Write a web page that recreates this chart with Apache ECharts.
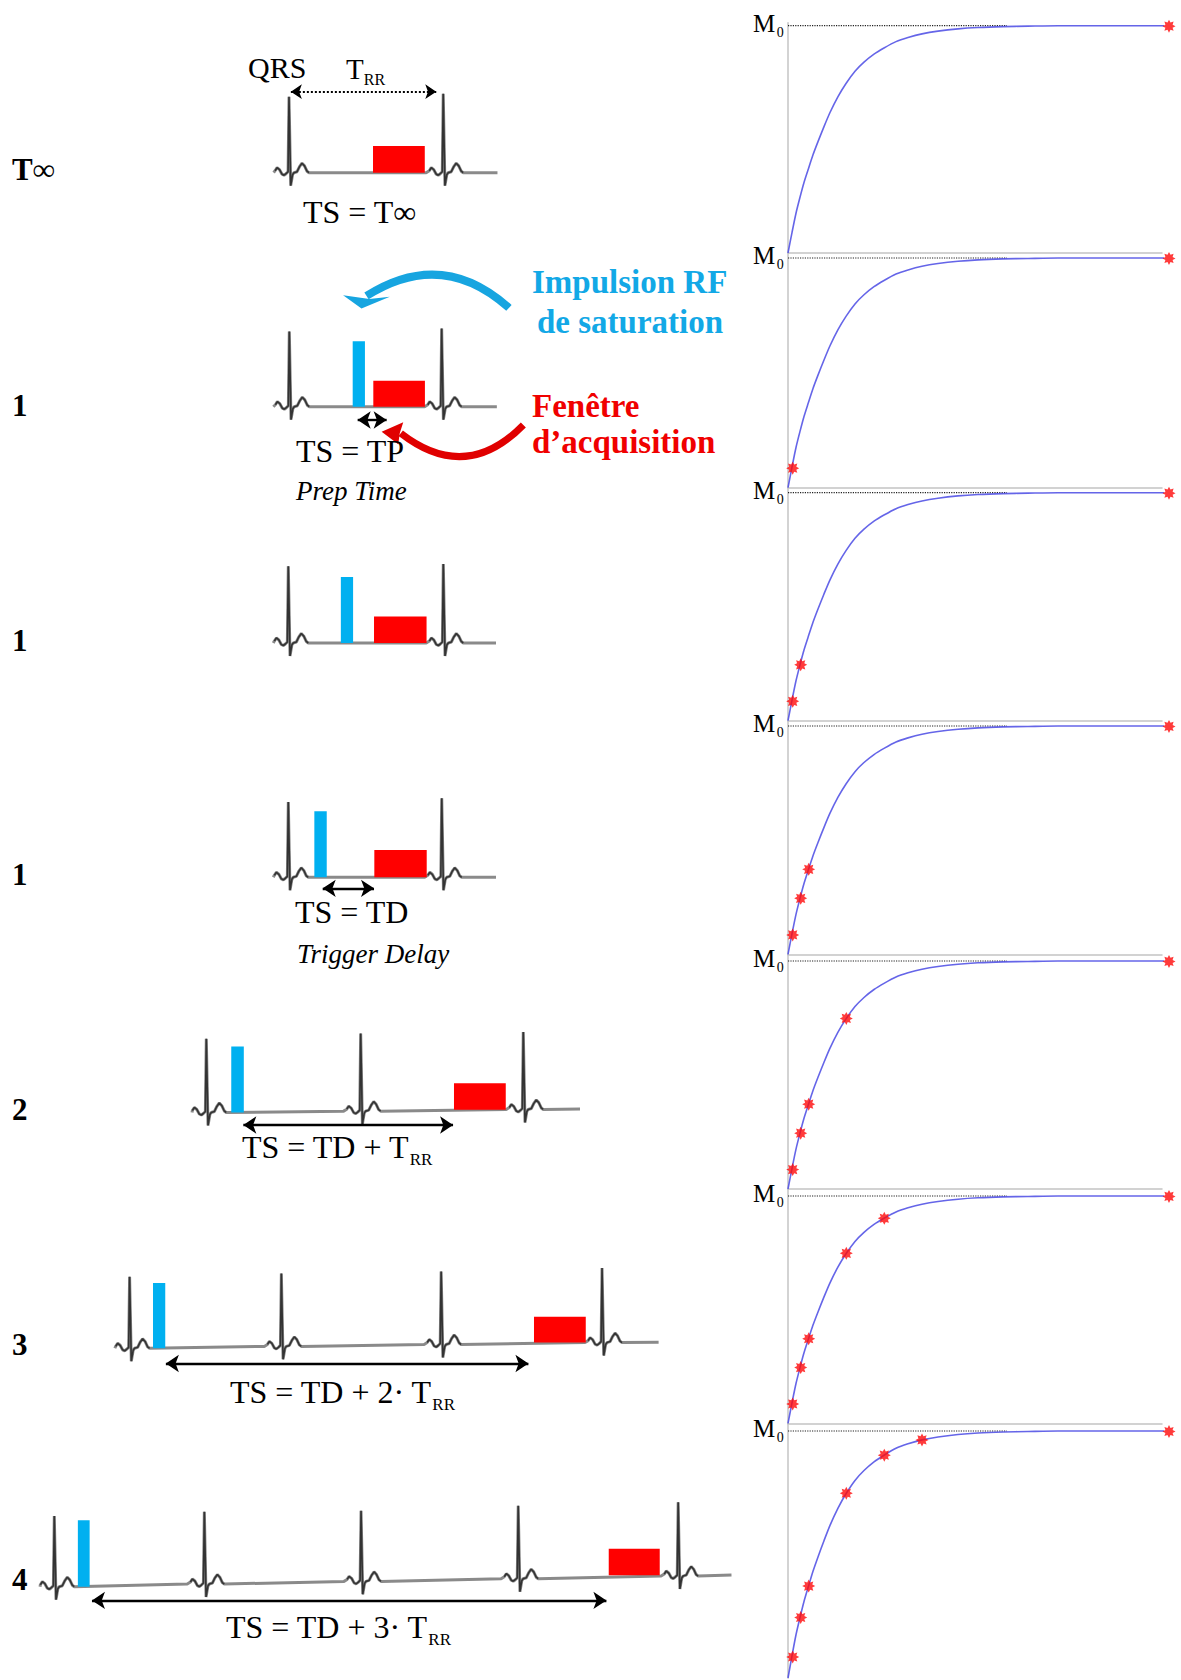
<!DOCTYPE html>
<html><head><meta charset="utf-8"><title>Saturation recovery</title>
<script src="https://cdn.jsdelivr.net/npm/echarts@6.0.0/dist/echarts.min.js"></script>
<style>html,body{margin:0;padding:0;background:#fff;}#chart{width:1181px;height:1680px;}</style>
</head><body><div id="chart"></div>
<script>
// ================= DATA =================
// Left column: ECG rows (time in ms from first R peak, amplitude in mV)
const ROW_LABELS = ['T∞', '1', '1', '1', '2', '3', '4'];
const R_PEAKS = [[0, 995], [0, 983], [0, 1000], [0, 990], [0, 996, 2045], [0, 979, 2010, 3048], [0, 968, 1979, 2993, 4025]];
const R_AMPS = [[1.0, 1.04], [0.99, 1.03], [1.01, 1.04], [0.99, 1.04], [0.97, 1.02, 1.02], [0.94, 0.96, 0.96, 0.98], [0.93, 0.95, 0.93, 0.96, 0.97]];
const BASE_DRIFT = [[0, 0], [0, 0], [0, 0], [0, 0], [0, 0.018, 0.04], [0, 0.025, 0.05, 0.075], [0, 0.035, 0.07, 0.105, 0.14]];
const TRACE_SPAN = [[-99, 1345], [-103, 1339], [-97, 1340], [-97, 1340], [-92, 2411], [-95, 3413], [-92, 4369]];
const TRACE_END_LEVEL = [0, 0, 0, 0, 0.045, 0.08, 0.155];
// one heartbeat template (offset from R peak in ms, level in mV)
const BEAT_DT = [-110, -90, -77, -61, -45, -32, -19, -6, 0, 11, 23, 32, 52, 68, 84, 100, 116, 129];
const BEAT_DV = [0, 0.026, 0.066, 0.04, -0.02, -0.033, -0.013, 0.013, 0, -0.17, -0.026, 0, 0.013, 0.08, 0.125, 0.09, 0.02, 0];
const R_INDEX = 8;
// saturation pulse [start, end, height]
const PULSES = [null, [409, 488, 0.86], [339, 418, 0.87], [168, 248, 0.87], [161, 242, 0.87], [151, 230, 0.86], [152, 228, 0.875]];
// acquisition window [start, end, base, height]
const WINDOWS = [[542, 876, 0, 0.35], [542, 875, 0, 0.34], [553, 892, 0, 0.35], [555, 893, 0, 0.36], [1598, 1932, 0.035, 0.35], [2609, 2943, 0.075, 0.34], [3577, 3906, 0.15, 0.35]];
// double arrows [start, end, level]
const SPANS = [[12, 950, 1.066], [441, 628, -0.175], null, [222, 553, -0.145], [239, 1592, -0.165], [234, 2573, -0.2], [243, 3562, -0.18]];
// curved call-out arrows of row 2 [tail t, tail level, head t, head level]
const CURVED_BLUE = [1417, 1.30, 498, 1.457];
const CURVED_RED = [1510, -0.241, 719, -0.35];
const TS_TEXT = ['TS = T∞', 'TS = TP', '', 'TS = TD', 'TS = TD + T', 'TS = TD + 2· T', 'TS = TD + 3· T'];
const TS_SUB = ['', '', '', '', 'RR', 'RR', 'RR'];
const NOTE_TEXT = ['', 'Prep Time', '', 'Trigger Delay', '', '', ''];

// Right column: recovery curve (t in px-like units, M / M0)
const CURVE_T = [0, 4, 8, 12, 16, 20, 25, 30, 36, 42, 50, 58, 67, 76, 86, 96, 108, 120, 134, 150, 170, 190, 215, 240, 270, 393];
const CURVE_M = [0, 0.09, 0.175, 0.245, 0.31, 0.365, 0.432, 0.49, 0.556, 0.618, 0.688, 0.746, 0.80, 0.84, 0.875, 0.902, 0.93, 0.948, 0.964, 0.976, 0.986, 0.992, 0.996, 0.998, 1.0, 1.0];
const SAMPLE_T = [4.7, 12.7, 20.7, 58.3, 96.3, 134];
const SAMPLE_M = [0.085, 0.245, 0.372, 0.748, 0.902, 0.964];
const T_INF = [381, 0.998];
const SAMPLES_SHOWN = [0, 1, 2, 3, 4, 5, 6];
const M0_GUIDE_END = 219;

// ================= LAYOUT =================
const FONT = '"Liberation Serif","Times New Roman",serif';
const PX_PER_MS = 0.155, PX_PER_MV = 76;
const ROW_R1_X = [289, 289.3, 288.3, 288.3, 206.3, 129.6, 54.3];
const ROW_BASE_Y = [172.7, 406.7, 643, 877.3, 1112.5, 1348.3, 1586.7];
const PANEL_M0_Y = [25.7, 258, 492.7, 726, 961, 1196, 1431];
const PANEL_BOTTOM_Y = [253, 487.7, 720.7, 954.3, 1189, 1423.3, 1678];
const PANEL_AXIS_W = 374;
const STAR_PATH = 'path://M10 0 L12.3 4.45 L17.07 2.93 L15.55 7.7 L20 10 L15.55 12.3 L17.07 17.07 L12.3 15.55 L10 20 L7.7 15.55 L2.93 17.07 L4.45 12.3 L0 10 L4.45 7.7 L2.93 2.93 L7.7 4.45 Z';
// head shapes (pixel offsets from the end of the arc) and arc bend
const BLUE_ARROW_STYLE = { color: '#17a5e0', width: 8, bend: -0.379, head: [[-5, 12.5], [23.3, 0.9], [3, 3], [-23.4, -0.8]] };
const RED_ARROW_STYLE = { color: '#e00000', width: 7, bend: 0.446, head: [[-19.1, -1.6], [-2.5, 11], [-1, 0], [2.5, -11]] };
const BLUE = '#00b0f0';

const mctx = document.createElement('canvas').getContext('2d');
function fontOf(size, o) { return (o.italic ? 'italic ' : '') + (o.bold ? 'bold ' : '') + size + 'px ' + FONT; }
function textWidth(text, size, o = {}) { mctx.font = fontOf(size, o); return mctx.measureText(text).width; }
function textEl(x, baseline, text, size, o = {}) {
  return { type: 'text', silent: true, z: 100, x: x, y: baseline - 0.33 * size,
    style: { text: text, fill: o.color || '#000', font: fontOf(size, o), textAlign: 'left', textVerticalAlign: 'middle' } };
}

const grids = [], xAxes = [], yAxes = [], series = [], graphics = [];
const hiddenAxis = { axisLine: { show: false }, axisTick: { show: false }, axisLabel: { show: false }, splitLine: { show: false } };
const gray = { color: '#c4c4c4', width: 1.5 };

// ---------- right panels ----------
const curveData = CURVE_T.map((t, i) => [t, CURVE_M[i]]);
PANEL_M0_Y.forEach((m0, k) => {
  const top = k === 0 ? m0 - 3 : PANEL_BOTTOM_Y[k - 1];
  const bottom = PANEL_BOTTOM_Y[k];
  grids.push({ left: 788, top: top, width: PANEL_AXIS_W, height: bottom - top });
  xAxes.push({ type: 'value', gridIndex: k, min: 0, max: PANEL_AXIS_W, axisLine: { show: k < 6, onZero: false, lineStyle: gray }, axisTick: { show: false }, axisLabel: { show: false }, splitLine: { show: false } });
  yAxes.push({ type: 'value', gridIndex: k, min: 0, max: 1 + (m0 - top) / (bottom - m0), axisLine: { show: true, onZero: false, lineStyle: gray }, axisTick: { show: false }, axisLabel: { show: false }, splitLine: { show: false } });
  series.push({ type: 'line', xAxisIndex: k, yAxisIndex: k, data: [[0, 1], [M0_GUIDE_END, 1]], symbol: 'none', silent: true, animation: false, z: 2,
    lineStyle: { color: '#222', width: 1.2, type: 'dotted' } });
  series.push({ type: 'line', xAxisIndex: k, yAxisIndex: k, data: curveData, symbol: 'none', smooth: 0.25, clip: false, silent: true, animation: false, z: 3,
    lineStyle: { color: '#4a4ae4', width: 1.6, opacity: 0.85 } });
  const pts = [];
  for (let i = 0; i < SAMPLES_SHOWN[k]; i++) pts.push([SAMPLE_T[i], SAMPLE_M[i]]);
  pts.push(T_INF);
  series.push({ type: 'scatter', xAxisIndex: k, yAxisIndex: k, data: pts, symbol: STAR_PATH, symbolSize: 13, clip: false, silent: true, animation: false, z: 4,
    itemStyle: { color: '#ff0a0a' } });
  graphics.push(textEl(753, m0 + 6, 'M', 25));
  graphics.push(textEl(753 + textWidth('M', 25) + 1.5, m0 + 11, '0', 14));
});

// ---------- left ECG rows ----------
function rectSeries(idx, data, color) {
  return { type: 'custom', xAxisIndex: idx, yAxisIndex: idx, data: data, encode: { x: [0, 1], y: 2 }, silent: true, animation: false, z: 5,
    renderItem: function (params, api) {
      const a = api.coord([api.value(0), api.value(2)]);
      const b = api.coord([api.value(1), api.value(2) + api.value(3)]);
      return { type: 'rect', shape: { x: a[0], y: b[1], width: b[0] - a[0], height: a[1] - b[1] }, style: { fill: color } };
    } };
}
function curvedArrowSeries(idx, item, st) {
  return { type: 'custom', xAxisIndex: idx, yAxisIndex: idx, data: [item], encode: { x: [0, 2], y: [1, 3] }, silent: true, animation: false, z: 7,
    renderItem: function (params, api) {
      const p1 = api.coord([api.value(0), api.value(1)]);
      const p2 = api.coord([api.value(2), api.value(3)]);
      const cx = (p1[0] + p2[0]) / 2 - (p1[1] - p2[1]) * st.bend;
      const cy = (p1[1] + p2[1]) / 2 - (p2[0] - p1[0]) * st.bend;
      return { type: 'group', children: [
        { type: 'bezierCurve', shape: { x1: p1[0], y1: p1[1], x2: p2[0], y2: p2[1], cpx1: cx, cpy1: cy },
          style: { stroke: st.color, lineWidth: st.width, fill: null } },
        { type: 'polygon', shape: { points: st.head.map(o => [p2[0] + o[0], p2[1] + o[1]]) }, style: { fill: st.color } }
      ] };
    } };
}
R_PEAKS.forEach((peaks, r) => {
  const idx = 7 + r;
  grids.push({ left: ROW_R1_X[r] - 300 * PX_PER_MS, top: ROW_BASE_Y[r] - 2 * PX_PER_MV, width: 4800 * PX_PER_MS, height: 3 * PX_PER_MV });
  xAxes.push(Object.assign({ type: 'value', gridIndex: idx, min: -300, max: 4500, show: false }, hiddenAxis));
  yAxes.push(Object.assign({ type: 'value', gridIndex: idx, min: -1, max: 2, show: false }, hiddenAxis));
  const [ts, te] = TRACE_SPAN[r];
  const trace = [[ts, BASE_DRIFT[r][0]]];
  const beats = [];
  peaks.forEach((tp, b) => {
    BEAT_DT.forEach((dt, i) => {
      const t = tp + dt;
      if (t <= ts || t >= te) return;
      const v = BASE_DRIFT[r][b] + (i === R_INDEX ? R_AMPS[r][b] : BEAT_DV[i]);
      trace.push([t, v]);
      if (dt >= -90) beats.push([t, v]);
    });
    beats.push([tp + 140, NaN]);
  });
  trace.push([te, TRACE_END_LEVEL[r]]);
  series.push({ type: 'line', xAxisIndex: idx, yAxisIndex: idx, data: trace, symbol: 'none', silent: true, animation: false, z: 1,
    lineStyle: { color: '#8a8a8a', width: 3 } });
  series.push({ type: 'line', xAxisIndex: idx, yAxisIndex: idx, data: beats, symbol: 'none', connectNulls: false, silent: true, animation: false, z: 2,
    lineStyle: { color: '#333333', width: 1.6 } });
  if (PULSES[r]) series.push(rectSeries(idx, [[PULSES[r][0], PULSES[r][1], 0, PULSES[r][2]]], BLUE));
  series.push(rectSeries(idx, [WINDOWS[r]], '#ff0000'));
  if (SPANS[r]) {
    const [s, e, l] = SPANS[r];
    series.push({ type: 'lines', coordinateSystem: 'cartesian2d', xAxisIndex: idx, yAxisIndex: idx, symbol: ['arrow', 'arrow'], symbolSize: r === 0 ? 11 : 13,
      silent: true, animation: false, z: 6,
      lineStyle: { color: '#000', width: r === 0 ? 2 : 2.4, opacity: 1, type: r === 0 ? 'dotted' : 'solid', curveness: 0 },
      data: [{ coords: [[s, l], [e, l]] }] });
  }
  if (r === 1) {
    series.push(curvedArrowSeries(idx, CURVED_BLUE, BLUE_ARROW_STYLE));
    series.push(curvedArrowSeries(idx, CURVED_RED, RED_ARROW_STYLE));
  }
});

// ---------- texts ----------
const LABEL_BASELINE = [180, 416, 651, 885, 1120, 1355, 1590];
ROW_LABELS.forEach((t, r) => graphics.push(textEl(12, LABEL_BASELINE[r], t, 31, { bold: true })));
graphics.push(textEl(248, 77, 'QRS', 30));
graphics.push(textEl(346, 78.3, 'T', 29));
graphics.push(textEl(346 + textWidth('T', 29), 85, 'RR', 16));
const TS_SIZE = 32;
const TS_POS = [[303, 223], [296, 461.7], null, [295, 923], [242, 1158], [230, 1403], [226, 1638]];
TS_TEXT.forEach((t, r) => {
  if (!t) return;
  const [x, bl] = TS_POS[r];
  graphics.push(textEl(x, bl, t, TS_SIZE));
  if (TS_SUB[r]) graphics.push(textEl(x + textWidth(t, TS_SIZE), bl + 7, TS_SUB[r], 17));
});
const NOTE_POS = [null, [296, 500], null, [297, 963]];
NOTE_TEXT.forEach((t, r) => { if (t) graphics.push(textEl(NOTE_POS[r][0], NOTE_POS[r][1], t, 27, { italic: true })); });
graphics.push(textEl(532, 293, 'Impulsion RF', 33, { bold: true, color: '#12a8e6' }));
graphics.push(textEl(537, 333, 'de saturation', 33, { bold: true, color: '#12a8e6' }));
graphics.push(textEl(532, 417, 'Fenêtre', 33, { bold: true, color: '#f00000' }));
graphics.push(textEl(532, 453, 'd’acquisition', 33, { bold: true, color: '#f00000' }));

const chart = echarts.init(document.getElementById('chart'), null, { renderer: 'svg' });
chart.setOption({
  backgroundColor: '#fff', animation: false,
  grid: grids, xAxis: xAxes, yAxis: yAxes, series: series, graphic: graphics
});
</script></body></html>
